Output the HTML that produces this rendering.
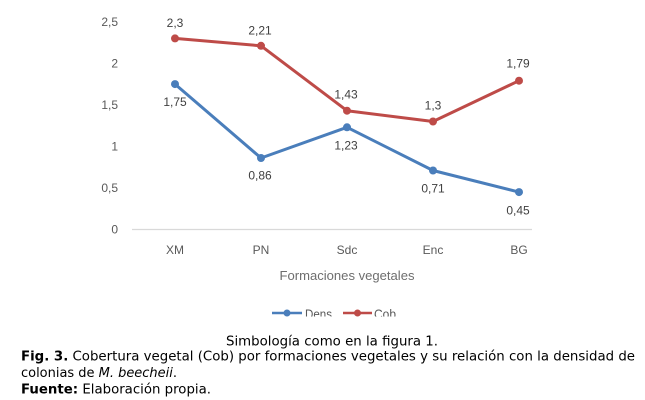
<!DOCTYPE html>
<html><head><meta charset="utf-8"><style>
html,body{margin:0;padding:0;background:#fff;}
svg{display:block;}
</style></head><body>
<svg width="645" height="400" viewBox="0 0 645 400" xmlns="http://www.w3.org/2000/svg">
<rect width="645" height="400" fill="#fff"/>
<!-- gridline / axis -->
<line x1="132" y1="229.5" x2="532" y2="229.5" stroke="#d9d9d9" stroke-width="1.2"/>
<!-- y tick labels -->
<g font-family="Liberation Sans, sans-serif" font-size="12" fill="#595959" text-anchor="end">
<text x="118" y="26">2,5</text>
<text x="118" y="67.5">2</text>
<text x="118" y="109">1,5</text>
<text x="118" y="150.5">1</text>
<text x="118" y="192">0,5</text>
<text x="118" y="233.5">0</text>
</g>
<!-- x labels -->
<g font-family="Liberation Sans, sans-serif" font-size="12" fill="#595959" text-anchor="middle">
<text x="175" y="254">XM</text>
<text x="261" y="254">PN</text>
<text x="347" y="254">Sdc</text>
<text x="433" y="254">Enc</text>
<text x="519" y="254">BG</text>
</g>
<text x="279.5" y="280" font-family="Liberation Sans, sans-serif" font-size="13" fill="#6e6e6e" textLength="135" lengthAdjust="spacingAndGlyphs">Formaciones vegetales</text>
<!-- series Cob -->
<polyline points="175,38.4 261,45.8 347,110.7 433,121.5 519,80.7" fill="none" stroke="#be4b48" stroke-width="3" stroke-linejoin="round"/>
<g fill="#be4b48">
<circle cx="175" cy="38.4" r="4"/><circle cx="261" cy="45.8" r="4"/><circle cx="347" cy="110.7" r="4"/><circle cx="433" cy="121.5" r="4"/><circle cx="519" cy="80.7" r="4"/>
</g>
<!-- series Dens -->
<polyline points="175,84.1 261,158 347,127.3 433,170.5 519,192.1" fill="none" stroke="#4a7ebb" stroke-width="3" stroke-linejoin="round"/>
<g fill="#4a7ebb">
<circle cx="175" cy="84.1" r="4"/><circle cx="261" cy="158" r="4"/><circle cx="347" cy="127.3" r="4"/><circle cx="433" cy="170.5" r="4"/><circle cx="519" cy="192.1" r="4"/>
</g>
<!-- data labels -->
<g font-family="Liberation Sans, sans-serif" font-size="12" fill="#404040" text-anchor="middle">
<text x="175" y="27">2,3</text>
<text x="260" y="34.3">2,21</text>
<text x="346" y="98.6">1,43</text>
<text x="433" y="109.3">1,3</text>
<text x="518" y="67.6">1,79</text>
<text x="175" y="106">1,75</text>
<text x="260" y="179.3">0,86</text>
<text x="346" y="149.3">1,23</text>
<text x="433" y="192.6">0,71</text>
<text x="518" y="214.3">0,45</text>
</g>
<!-- legend -->
<defs><clipPath id="lc"><rect x="260" y="300" width="160" height="16.5"/></clipPath></defs>
<g clip-path="url(#lc)">
<line x1="272" y1="313" x2="302" y2="313" stroke="#4a7ebb" stroke-width="2.5"/>
<circle cx="287" cy="313" r="3.5" fill="#4a7ebb"/>
<text x="305" y="318.5" font-family="Liberation Sans, sans-serif" font-size="12.5" fill="#595959" textLength="27" lengthAdjust="spacingAndGlyphs">Dens</text>
<line x1="343" y1="313" x2="372" y2="313" stroke="#be4b48" stroke-width="2.5"/>
<circle cx="357.5" cy="313" r="3.5" fill="#be4b48"/>
<text x="374" y="318.5" font-family="Liberation Sans, sans-serif" font-size="12.5" fill="#595959" textLength="22" lengthAdjust="spacingAndGlyphs">Cob</text>
</g>
<!-- caption -->
<g font-family="DejaVu Sans, Verdana, sans-serif" font-size="13" fill="#000">
<text x="226" y="345.5" textLength="212" lengthAdjust="spacingAndGlyphs">Simbología como en la figura 1.</text>
<text x="21" y="360.5" textLength="614" lengthAdjust="spacingAndGlyphs"><tspan font-weight="bold">Fig. 3.</tspan> Cobertura vegetal (Cob) por formaciones vegetales y su relación con la densidad de</text>
<text x="21" y="377" textLength="156" lengthAdjust="spacingAndGlyphs">colonias de <tspan font-style="italic">M. beecheii</tspan>.</text>
<text x="21" y="393.5" textLength="190" lengthAdjust="spacingAndGlyphs"><tspan font-weight="bold">Fuente:</tspan> Elaboración propia.</text>
</g>
</svg>
</body></html>
